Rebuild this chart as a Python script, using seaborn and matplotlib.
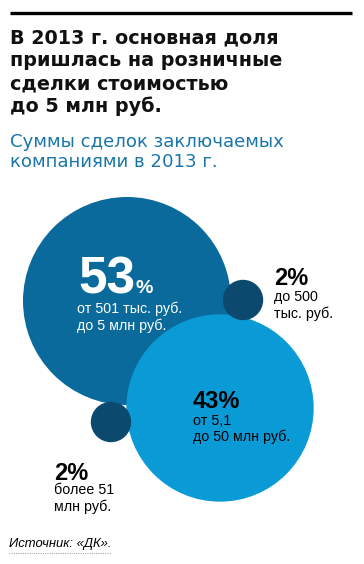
import numpy as np
import pandas as pd
import matplotlib
matplotlib.use('Agg')
import matplotlib.pyplot as plt
import seaborn as sns

# Data
categories = ['от 501 тыс. руб. до 5 млн руб.', 'от 5,1 до 50 млн руб.',
              'до 500 тыс. руб.', 'более 51 млн руб.']
shares = [53, 43, 2, 2]
colors = ['#0b6a9c', '#0a9bd7', '#0b4a6e', '#0b4a6e']

# Layout (pixel coordinates of bubble centres)
cx = [127, 220, 243, 111]
cy = [301, 408, 300, 422]
k = 104 / np.sqrt(53)  # radius in px per sqrt(share)

W, H, DPI = 364, 564, 100

sns.set_theme(style='white')
plt.rcParams['font.family'] = ['Liberation Sans', 'DejaVu Sans']

num_font = ['Liberation Sans', 'DejaVu Sans']

fig = plt.figure(figsize=(W / DPI, H / DPI), dpi=DPI)
ax = fig.add_axes([0, 0, 1, 1])

df = pd.DataFrame({'cat': categories, 'share': shares, 'x': cx, 'y': cy})
radius = k * np.sqrt(df['share'].to_numpy())
marker_area = (2 * radius * 72 / DPI) ** 2
sns.scatterplot(data=df, x='x', y='y', hue='cat', palette=dict(zip(categories, colors)),
                s=marker_area, linewidth=0, legend=False, ax=ax, alpha=1)

ax.set_xlim(0, W)
ax.set_ylim(H, 0)
ax.axis('off')

# top rule
ax.plot([10, 352], [13, 13], color='black', lw=2.4, solid_capstyle='butt')

# title
title_lines = ['В 2013 г. основная доля', 'пришлась на розничные',
               'сделки стоимостью', 'до 5 млн руб.']
for i, line in enumerate(title_lines):
    ax.text(10, 43 + i * 23, line, fontsize=13.8, fontweight='bold', color='#111111',
            family=['DejaVu Sans'], va='baseline', ha='left')

subtitle_lines = ['Суммы сделок заключаемых', 'компаниями в 2013 г.']
for i, line in enumerate(subtitle_lines):
    ax.text(10, 147 + i * 20, line, fontsize=13.1, color='#1a76a8',
            family=['DejaVu Sans'], va='baseline', ha='left')

# 53%
ax.text(78, 293, f'{shares[0]}', fontsize=37, fontweight='bold', family=num_font,
        color='white', va='baseline', ha='left')
ax.text(135, 293, '%', fontsize=14, fontweight='bold', family=num_font,
        color='white', va='baseline', ha='left')
ax.text(77, 313, 'от 501 тыс. руб.', fontsize=10.3, color='white', va='baseline')
ax.text(77, 330, 'до 5 млн руб.', fontsize=10.3, color='white', va='baseline')

# 2% top right
ax.text(274, 285, f'{shares[2]}%', fontsize=17, fontweight='bold', family=num_font,
        color='black', va='baseline')
ax.text(274, 301, 'до 500', fontsize=10.3, color='black', va='baseline')
ax.text(274, 318, 'тыс. руб.', fontsize=10.3, color='black', va='baseline')

# 43%
ax.text(193, 408, f'{shares[1]}%', fontsize=17, fontweight='bold', family=num_font,
        color='black', va='baseline')
ax.text(193, 425, 'от 5,1', fontsize=10.3, color='black', va='baseline')
ax.text(193, 441, 'до 50 млн руб.', fontsize=10.3, color='black', va='baseline')

# 2% bottom left
ax.text(54, 480, f'{shares[3]}%', fontsize=17, fontweight='bold', family=num_font,
        color='black', va='baseline')
ax.text(54, 494, 'более 51', fontsize=10.3, color='black', va='baseline')
ax.text(54, 511, 'млн руб.', fontsize=10.3, color='black', va='baseline')

# source
ax.text(9, 547, 'Источник: «ДК».', fontsize=9.4, style='italic', color='black',
        va='baseline')
ax.plot([9, 111], [553, 553], color='#aaaaaa', lw=0.8, ls=(0, (1, 1)))

fig.savefig('out.png', dpi=DPI, facecolor='white')
